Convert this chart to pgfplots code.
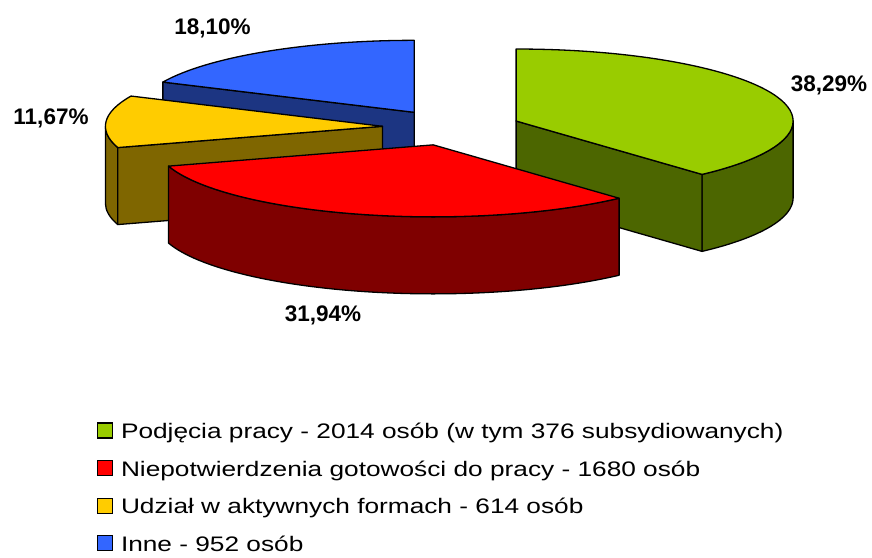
\documentclass[border=0pt]{standalone}
\usepackage{fontspec}
\setmainfont{Liberation Sans}
\usepackage{graphicx}
\usepackage{pgfplots}
\pgfplotsset{compat=1.18}
\definecolor{gTop}{HTML}{99CC00}
\definecolor{gSide}{HTML}{4C6600}
\definecolor{rTop}{HTML}{FF0000}
\definecolor{rSide}{HTML}{7F0000}
\definecolor{yTop}{HTML}{FFCC00}
\definecolor{ySide}{HTML}{7F6600}
\definecolor{bTop}{HTML}{3366FF}
\definecolor{bSide}{HTML}{1C3582}
% data (persons)
\def\vA{2014}\def\vB{1680}\def\vC{614}\def\vD{952}
\newcommand\lgt[1]{\scalebox{1.25}[1]{#1}}
\begin{document}
\begin{tikzpicture}
\pgfmathsetmacro\tot{\vA+\vB+\vC+\vD}
\pgfmathsetmacro\aA{0}
\pgfmathsetmacro\aB{360*(\vA/\tot)}
\pgfmathsetmacro\aC{\aB+360*(\vB/\tot)}
\pgfmathsetmacro\aD{\aC+360*(\vC/\tot)}
\pgfmathsetmacro\aE{360}
\def\rx{277}\def\ry{72}\def\dd{77}\def\ex{0.25}
\def\bx{451.5}\def\by{429.5}
\pgfmathsetmacro\gX{\bx+\ex*\rx*sin((\aA+\aB)/2)}\pgfmathsetmacro\gY{\by+\ex*\ry*cos((\aA+\aB)/2)}
\pgfmathsetmacro\rX{\bx+\ex*\rx*sin((\aB+\aC)/2)}\pgfmathsetmacro\rY{\by+\ex*\ry*cos((\aB+\aC)/2)}
\pgfmathsetmacro\yX{\bx+\ex*\rx*sin((\aC+\aD)/2)}\pgfmathsetmacro\yY{\by+\ex*\ry*cos((\aC+\aD)/2)}
\pgfmathsetmacro\uX{\bx+\ex*\rx*sin((\aD+\aE)/2)}\pgfmathsetmacro\uY{\by+\ex*\ry*cos((\aD+\aE)/2)}
% top face
\newcommand\topface[5]{%
  \filldraw[fill=#5] (axis cs:#1,#2) -- (axis cs:{#1+\rx*sin(#3)},{#2+\ry*cos(#3)})
    arc[start angle={90-#3}, end angle={90-#4}, x radius=\rx pt, y radius=\ry pt] -- cycle;}
% outer side
\newcommand\outside[5]{%
  \filldraw[fill=#5] (axis cs:{#1+\rx*sin(#3)},{#2+\ry*cos(#3)})
    arc[start angle={90-#3}, end angle={90-#4}, x radius=\rx pt, y radius=\ry pt]
    -- ++(0pt,-\dd pt)
    arc[start angle={90-#4}, end angle={90-#3}, x radius=\rx pt, y radius=\ry pt] -- cycle;}
% radial wall
\newcommand\wall[4]{%
  \filldraw[fill=#4] (axis cs:#1,#2) -- (axis cs:{#1+\rx*sin(#3)},{#2+\ry*cos(#3)})
    -- (axis cs:{#1+\rx*sin(#3)},{#2+\ry*cos(#3)-\dd}) -- (axis cs:#1,{#2-\dd}) -- cycle;}
\begin{axis}[
  x=1pt, y=1pt, xmin=0, xmax=872, ymin=0, ymax=557,
  hide axis, clip=false,
  legend style={at={(axis cs:96.5,135)}, anchor=north west, draw=none, fill=none,
    inner sep=0pt, font=\fontsize{21}{25}\selectfont, row sep=14.5pt,
    nodes={inner xsep=0pt, inner ysep=0pt, text height=16pt, text depth=7pt},
    /tikz/every odd column/.append style={column sep=8pt}},
  legend cell align=left,
  legend image code/.code={\filldraw[#1,draw=black,line width=1.3pt] (0pt,-4pt) rectangle (15pt,11pt);},
]
\begin{scope}[line width=1.3pt, line join=round, draw=black]
% blue (back)
\wall{\uX}{\uY}{\aD}{bSide}
\topface{\uX}{\uY}{\aD}{\aE}{bTop}
% yellow
\outside{\yX}{\yY}{\aC}{270}{ySide}
\wall{\yX}{\yY}{\aC}{ySide}
\topface{\yX}{\yY}{\aC}{\aD}{yTop}
% green
\outside{\gX}{\gY}{90}{\aB}{gSide}
\wall{\gX}{\gY}{\aB}{gSide}
\topface{\gX}{\gY}{\aA}{\aB}{gTop}
% red (front)
\outside{\rX}{\rY}{\aB}{\aC}{rSide}
\topface{\rX}{\rY}{\aB}{\aC}{rTop}
\end{scope}
\node[font=\fontsize{22.5}{26}\selectfont\bfseries] at (axis cs:829,472) {38,29\%};
\node[font=\fontsize{22.5}{26}\selectfont\bfseries] at (axis cs:323,242) {31,94\%};
\node[font=\fontsize{22.5}{26}\selectfont\bfseries] at (axis cs:51,438.5) {11,67\%};
\node[font=\fontsize{22.5}{26}\selectfont\bfseries] at (axis cs:212.5,529) {18,10\%};
\addlegendimage{fill=gTop}
\addlegendentry{\lgt{Podjęcia pracy - 2014 osób (w tym 376 subsydiowanych)}}
\addlegendimage{fill=rTop}
\addlegendentry{\lgt{Niepotwierdzenia gotowości do pracy - 1680 osób}}
\addlegendimage{fill=yTop}
\addlegendentry{\lgt{Udział w aktywnych formach - 614 osób}}
\addlegendimage{fill=bTop}
\addlegendentry{\lgt{Inne - 952 osób}}
\end{axis}
\pgfresetboundingbox
\path[use as bounding box] (current axis.south west) rectangle (current axis.north east);
\end{tikzpicture}
\end{document}
